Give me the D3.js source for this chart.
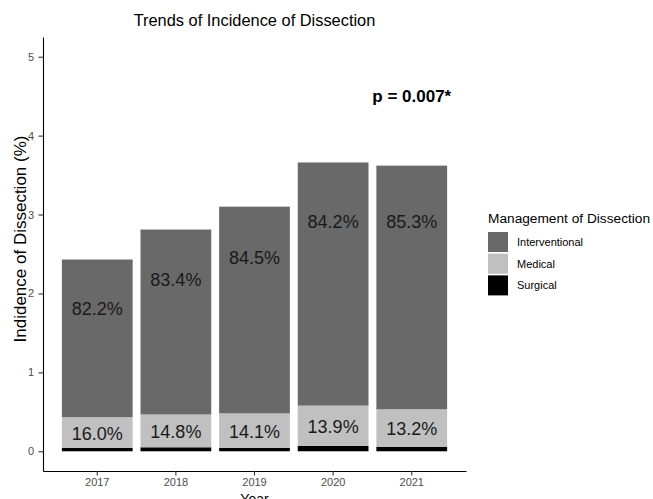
<!DOCTYPE html>
<html>
<head>
<meta charset="utf-8">
<script src="https://cdn.jsdelivr.net/npm/d3@7"></script>
<style>
  html, body { margin: 0; padding: 0; background: #fff; }
  svg { display: block; font-family: "Liberation Sans", Arial, Helvetica, sans-serif; }
</style>
</head>
<body>
<svg id="chart" width="653" height="499"></svg>
<script>
// Incidence of dissection per year (%) and share of each management type
const years = ["2017", "2018", "2019", "2020", "2021"];
const incidence = [2.43, 2.81, 3.10, 3.66, 3.62];
const interventionalPct = [82.2, 83.4, 84.5, 84.2, 85.3];
const medicalPct = [16.0, 14.8, 14.1, 13.9, 13.2];
const surgicalPct = [1.8, 1.8, 1.4, 1.9, 1.5];
// where the interventional share labels sit, in incidence units
const interventionalLabelY = [1.81, 2.17, 2.45, 2.91, 2.91];
const yTicks = [0, 1, 2, 3, 4, 5];
const groups = ["Interventional", "Medical", "Surgical"];
const groupColors = ["#696969", "#C0C0C0", "#000000"];
const pLabel = "p = 0.007*";
const pLabelAt = { year: "2021", value: 4.5 };

const svg = d3.select("#chart");
svg.append("rect").attr("width", 653).attr("height", 499).attr("fill", "#fff");

const x = d3.scaleBand().domain(years).range([43, 466]).paddingInner(0.1).paddingOuter(0.24);
const y = d3.scaleLinear().domain([-0.25, 5.25]).range([471, 37]);
const color = d3.scaleOrdinal().domain(groups).range(groupColors);

const rows = years.map((yr, i) => ({
  year: yr,
  Surgical: incidence[i] * surgicalPct[i] / 100,
  Medical: incidence[i] * medicalPct[i] / 100,
  Interventional: incidence[i] * interventionalPct[i] / 100,
  medLabel: medicalPct[i].toFixed(1) + "%",
  intLabel: interventionalPct[i].toFixed(1) + "%",
  intLabelY: interventionalLabelY[i]
}));

// stacked from the bottom: surgical, medical, interventional
const series = d3.stack().keys(["Surgical", "Medical", "Interventional"])(rows);

svg.append("g").selectAll("g").data(series).join("g")
  .attr("fill", d => color(d.key))
  .selectAll("rect").data(d => d).join("rect")
  .attr("x", d => x(d.data.year))
  .attr("width", x.bandwidth())
  .attr("y", d => y(d[1]))
  .attr("height", d => y(d[0]) - y(d[1]));

// share labels
const med = series.find(s => s.key === "Medical");
svg.append("g").selectAll("text").data(med).join("text")
  .attr("x", d => x(d.data.year) + x.bandwidth() / 2)
  .attr("y", d => y((d[0] + d[1]) / 2))
  .attr("dy", "0.4em")
  .attr("text-anchor", "middle")
  .attr("font-size", 18)
  .attr("fill", "#1a1a1a")
  .text(d => d.data.medLabel);

svg.append("g").selectAll("text").data(rows).join("text")
  .attr("x", d => x(d.year) + x.bandwidth() / 2)
  .attr("y", d => y(d.intLabelY))
  .attr("dy", "0.35em")
  .attr("text-anchor", "middle")
  .attr("font-size", 18)
  .attr("fill", "#1a1a1a")
  .text(d => d.intLabel);

// significance annotation
svg.append("text")
  .attr("x", x(pLabelAt.year) + x.bandwidth() / 2)
  .attr("y", y(pLabelAt.value))
  .attr("dy", "0.35em")
  .attr("text-anchor", "middle")
  .attr("font-size", 17)
  .attr("font-weight", "bold")
  .attr("fill", "#000")
  .text(pLabel);

// axes
const yAxis = svg.append("g").attr("transform", "translate(43,0)")
  .call(d3.axisLeft(y).tickValues(yTicks).tickFormat(d3.format("d"))
    .tickSize(4.5).tickSizeOuter(0).tickPadding(4.5));
const xAxis = svg.append("g").attr("transform", "translate(0,471)")
  .call(d3.axisBottom(x).tickSize(4.5).tickSizeOuter(0).tickPadding(3));
[yAxis, xAxis].forEach(g => {
  g.select(".domain").attr("stroke", "#000").attr("stroke-width", 1.1);
  g.selectAll(".tick line").attr("stroke", "#333").attr("stroke-width", 1.1);
  g.selectAll(".tick text").attr("fill", "#4D4D4D").attr("font-size", 11)
    .attr("font-family", "Liberation Sans, Arial, sans-serif");
});

// titles
svg.append("text")
  .attr("x", (43 + 466) / 2).attr("y", 26)
  .attr("text-anchor", "middle").attr("font-size", 16.4).attr("fill", "#000")
  .text("Trends of Incidence of Dissection");

svg.append("text")
  .attr("transform", "translate(26,239) rotate(-90)")
  .attr("text-anchor", "middle").attr("font-size", 17).attr("fill", "#000")
  .text("Indidence of Dissection (%)");

svg.append("text")
  .attr("x", (43 + 466) / 2).attr("y", 504)
  .attr("text-anchor", "middle").attr("font-size", 14).attr("fill", "#000")
  .text("Year");

// legend
const legend = svg.append("g").attr("transform", "translate(488,0)");
legend.append("text").attr("x", 0).attr("y", 223)
  .attr("font-size", 13.7).attr("fill", "#000").text("Management of Dissection");
const items = legend.selectAll("g.item").data(groups).join("g").attr("class", "item")
  .attr("transform", (d, i) => `translate(0,${232 + i * 21.7})`);
items.append("rect").attr("width", 20).attr("height", 20).attr("fill", d => color(d));
items.append("text").attr("x", 29).attr("y", 10).attr("dy", "0.35em")
  .attr("font-size", 11).attr("fill", "#000").text(d => d);
</script>
</body>
</html>
